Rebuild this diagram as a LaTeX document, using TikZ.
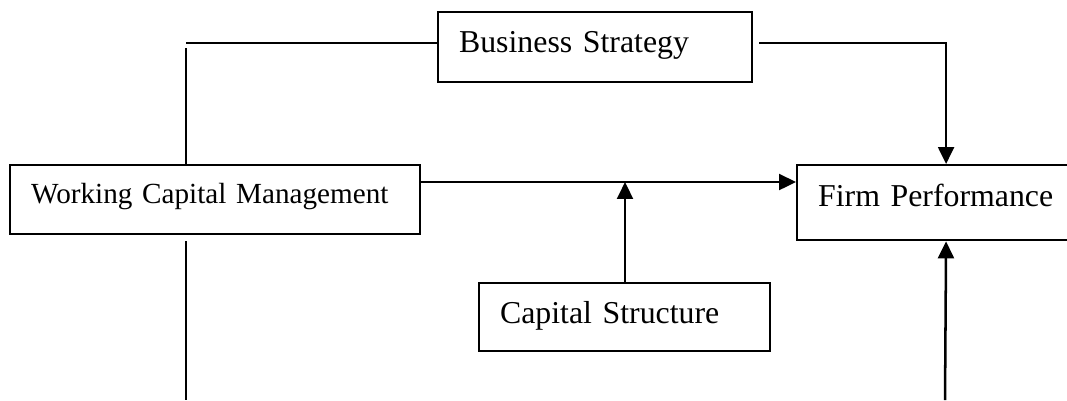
\documentclass[tikz,border=0pt]{standalone}
\usepackage{fontspec}
\setmainfont{Liberation Serif}
\usetikzlibrary{arrows.meta,positioning}

\tikzset{
  block/.style={draw, line width=0.85pt, anchor=north west, inner xsep=7.9pt,
    inner ysep=0pt, align=left, font=\fontsize{12}{14}\selectfont},
  link/.style={line width=0.95pt},
  >={Triangle[length=6.4pt,width=6pt]}
}

\begin{document}
\begin{tikzpicture}[x=0.377pt,y=-0.377pt]
  \useasboundingbox (0,0) rectangle (1067,400);

  \node[block, text width=102.6pt, text height=15.1pt, text depth=11.3pt] (strategy) at (437,11)  {Business Strategy};
  \node[block, text width=138.8pt, text height=14.3pt, text depth=11.7pt,
        font=\fontsize{11}{13}\selectfont]                                (wcm)      at (9,164)   {Working Capital Management};
  \node[block, text width=96.5pt,  text height=15.5pt, text depth=12.8pt] (fp)       at (796,164) {Firm Performance};
  \node[block, text width=93.9pt,  text height=15.1pt, text depth=10.6pt] (cs)       at (478,282) {Capital Structure};

  % bends and loose ends
  \coordinate (join)  at (625,182);
  \coordinate (upL)   at (186,43);
  \coordinate (upR)   at (945,43);
  \coordinate (downL) at (186,400);
  \coordinate (downR) at (945,400);

  \draw[link] (strategy.west |- upL) -- (upL);
  \draw[link] ([yshift=-1.9pt]upL) -- (wcm.north -| upL);
  \draw[link,->] ([xshift=2.3pt]strategy.east |- upR) -| (fp.north);
  \draw[link,->] (wcm.east |- join) -- (fp.west |- join);
  \draw[link,->] (cs.north -| join) -- (join);
  \draw[link] ([yshift=-2.3pt]wcm.south -| downL) -- (downL);
  \draw[link,->] (downR) -- (fp.south);
\end{tikzpicture}
\end{document}
